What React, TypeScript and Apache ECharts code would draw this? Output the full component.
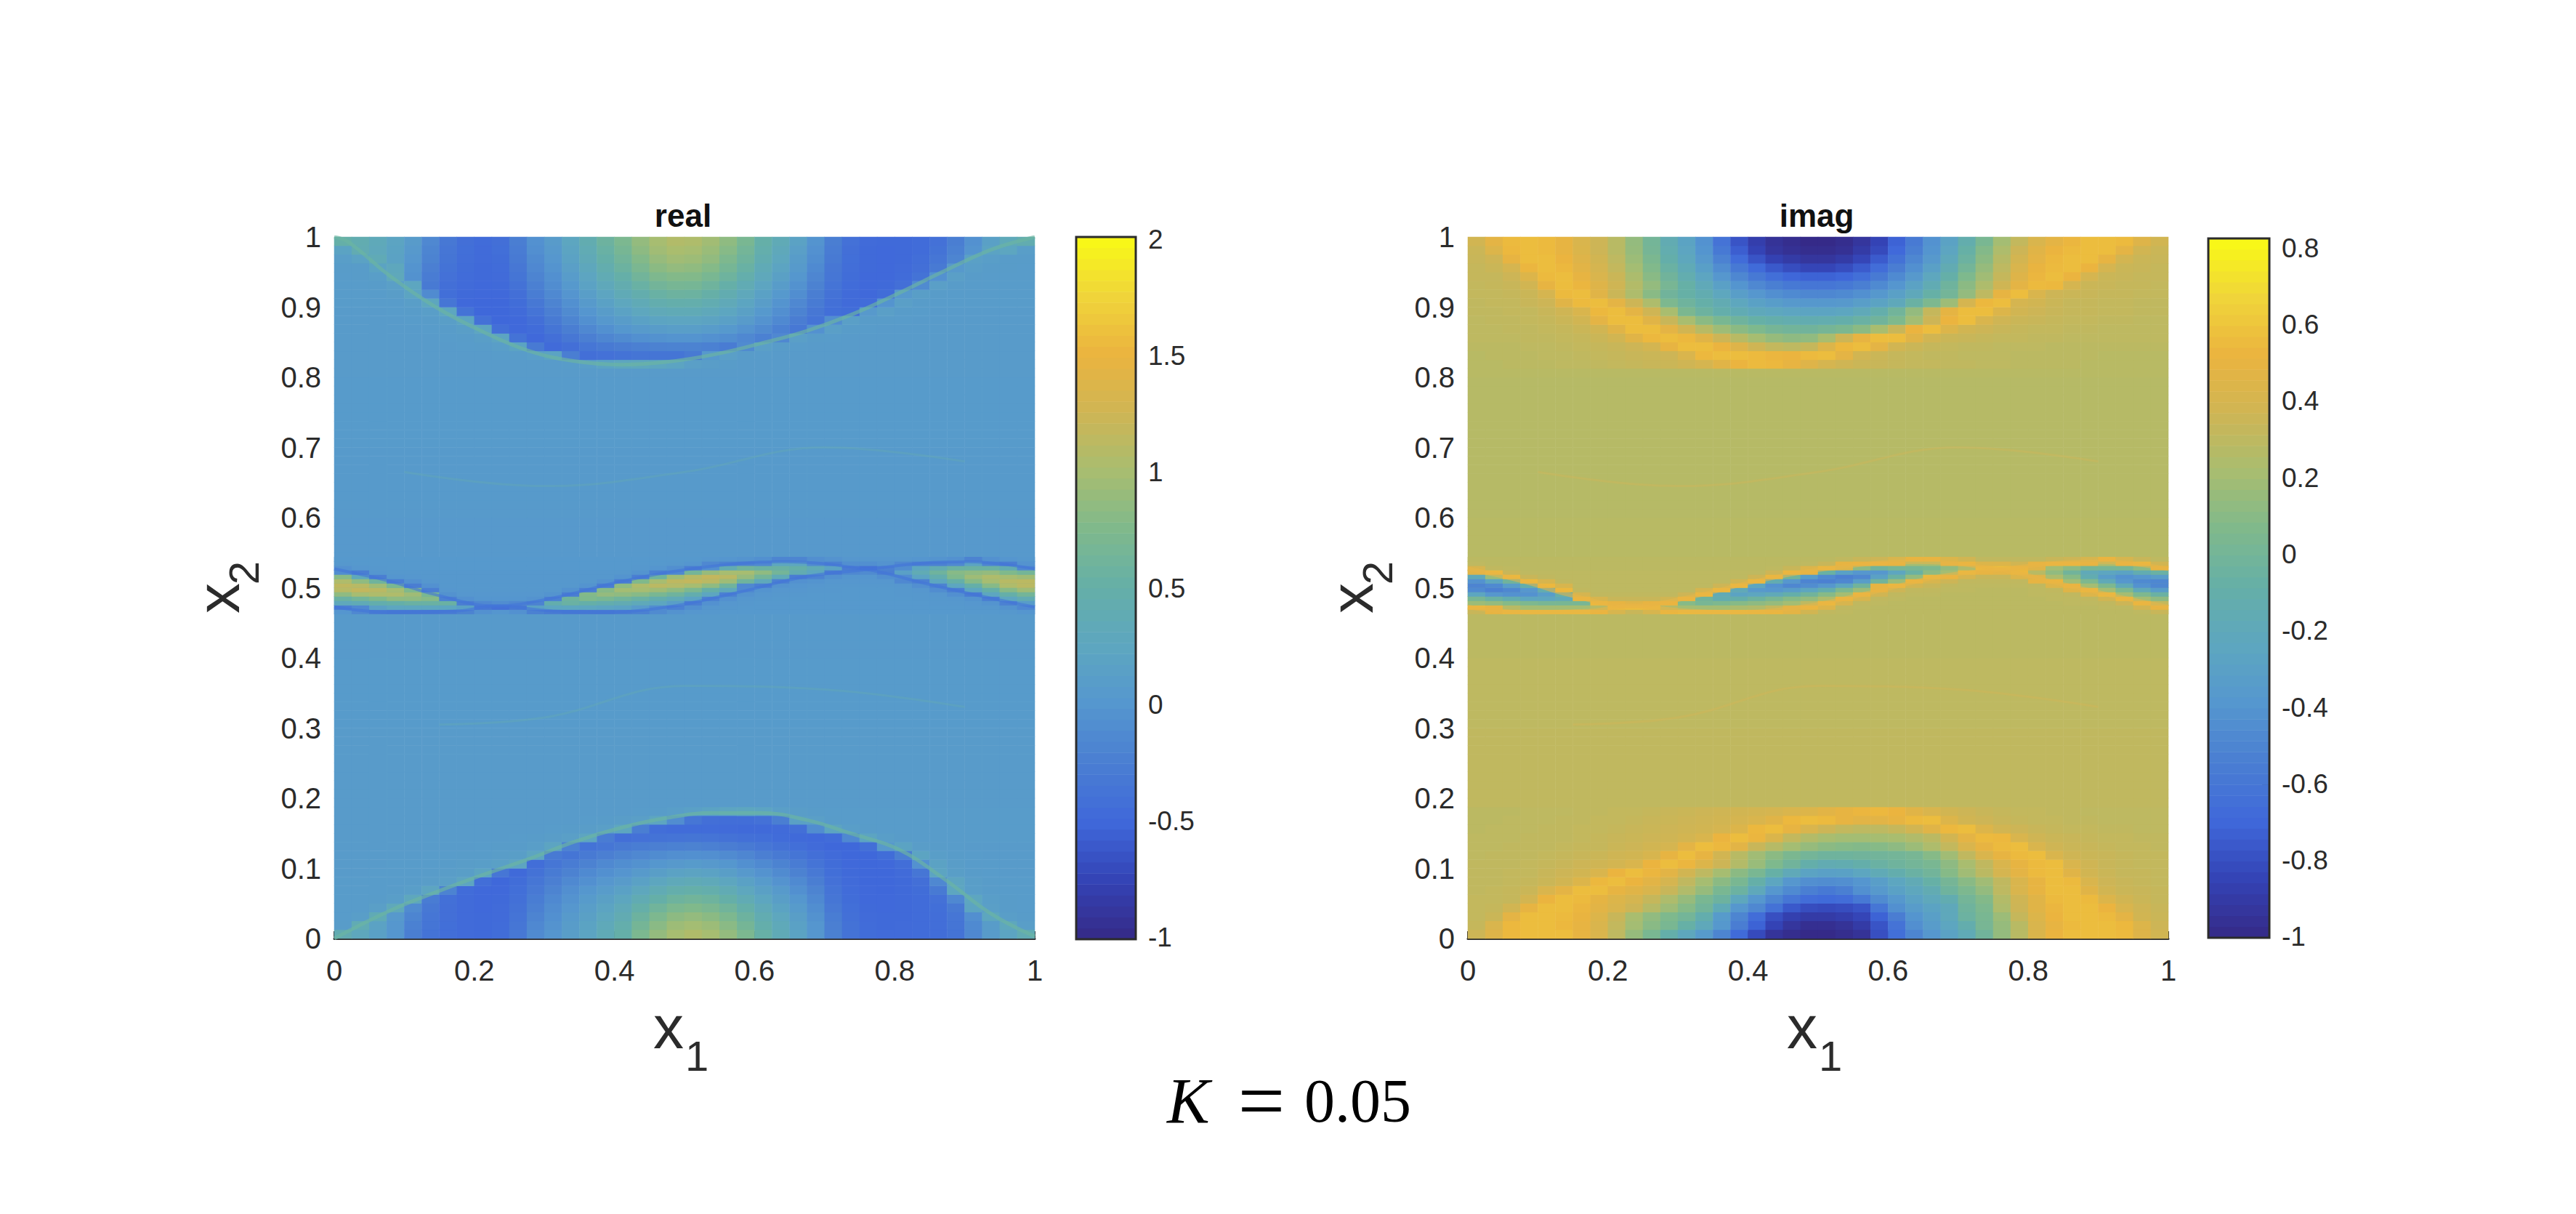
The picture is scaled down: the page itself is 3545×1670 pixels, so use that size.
import React, { useEffect, useRef } from "react";
import * as echarts from "echarts";

// Colour scale (evenly spaced from low to high)
const colorScale = ["#352A87","#3443B5","#3F68DA","#4A7ED2","#5596CF","#5DA6C0","#65AFA8","#7FB98C","#A8BD70","#CFB554","#EBB43F","#F0D53A","#F9FB15"];

const COLS = 40;
const ROWS = 80;
const FINE_ROWS = 160;
const FINE_FIRST_ROW = 74;
const xTicks = [0, 0.2, 0.4, 0.6, 0.8, 1];
const realBarTicks = [-1, -0.5, 0, 0.5, 1, 1.5, 2];
const imagBarTicks = [-1, -0.8, -0.6, -0.4, -0.2, 0, 0.2, 0.4, 0.6, 0.8];

// Values are in hundredths. Background value per tenth of x2.
const realBackground = [9, 8, 8, 7, 6, 5, 6, 7, 8, 8];
const imagBackground = [30, 31, 31, 30, 29, 28, 27, 27, 28, 29];

// Top lens, x2 from 0.994 down to 0.819 in steps of 0.0125, x1 in 40 cells
const realTop = [
[50,42,32,22,8,-15,-32,-42,-46,-42,-25,-5,8,25,42,58,72,88,100,107,105,97,85,70,50,35,18,-2,-25,-40,-47,-48,-48,-46,-40,-25,-5,15,32,42],
[20,40,30,20,5,-18,-34,-43,-47,-43,-28,-8,5,22,38,54,68,84,96,102,100,92,80,65,46,31,14,-5,-28,-42,-48,-49,-48,-46,-38,-22,-2,20,25,12],
[12,18,35,18,2,-20,-36,-44,-47,-45,-30,-12,2,18,34,50,63,78,90,96,94,87,74,60,42,27,10,-9,-30,-43,-48,-49,-48,-44,-34,-18,15,12,10,10],
[10,10,20,28,-2,-24,-38,-45,-48,-46,-33,-15,-2,14,29,44,57,71,83,88,86,79,67,54,36,22,6,-13,-33,-44,-48,-49,-47,-42,-30,5,12,10,10,9],
[9,10,12,30,-4,-28,-40,-46,-48,-47,-36,-19,-6,9,24,38,50,63,74,78,77,70,59,46,30,16,1,-17,-35,-45,-49,-49,-46,-38,-5,14,10,9,9,9],
[9,9,10,14,25,-30,-42,-47,-49,-48,-39,-23,-10,4,18,31,43,54,64,68,67,60,50,38,24,10,-4,-21,-37,-46,-49,-48,-42,-12,14,10,9,9,9,9],
[9,9,9,11,22,-12,-43,-48,-49,-49,-42,-27,-14,-1,12,24,35,45,54,58,57,51,42,30,17,4,-9,-25,-39,-47,-49,-45,5,13,10,9,9,9,9,9],
[9,9,9,9,12,26,-35,-49,-50,-50,-45,-32,-19,-6,6,17,27,36,44,47,46,41,33,23,11,-2,-15,-29,-41,-47,-46,-2,14,10,9,9,9,9,9,9],
[8,8,8,9,10,12,25,-38,-50,-50,-47,-37,-24,-12,0,10,19,27,33,36,35,31,25,16,4,-8,-20,-33,-43,-45,5,14,10,9,8,8,8,8,8,8],
[8,8,8,8,9,10,13,22,-40,-50,-49,-42,-30,-18,-7,3,10,17,22,24,24,21,15,8,-3,-14,-26,-37,-10,14,10,10,9,8,8,8,8,8,8,8],
[8,8,8,8,8,9,10,13,24,-42,-49,-46,-36,-25,-15,-6,1,6,10,12,12,9,4,-3,-12,-22,-32,-5,14,10,9,8,8,8,8,8,8,8,8,8],
[8,8,8,8,8,8,9,10,13,22,-38,-49,-42,-33,-24,-17,-12,-7,-4,-2,-2,-5,-9,-15,-22,-15,14,10,9,8,8,8,8,8,8,8,8,8,8,8],
[8,8,8,8,8,8,8,9,10,12,20,-30,-47,-42,-35,-30,-26,-23,-21,-20,-20,-22,-28,-12,14,10,9,8,8,8,8,8,8,8,8,8,8,8,8,8],
[8,8,8,8,8,8,8,8,8,9,10,12,20,-25,-42,-40,-38,-36,-36,-36,-30,5,14,10,9,8,8,8,8,8,8,8,8,8,8,8,8,8,8,8],
[8,8,8,8,8,8,8,8,8,8,8,8,8,10,12,20,26,28,26,22,14,11,10,8,8,8,8,8,8,8,8,8,8,8,8,8,8,8,8,8],
];

// Central band, one list per x1 cell, x2 from 0.4656 to 0.5406 in steps of 0.00625
const realBand = [
[0,-25,30,55,85,110,115,105,80,-10,-5,3,4],
[-15,-15,35,65,100,118,110,85,30,-25,2,4,4],
[-25,15,45,75,105,112,95,60,-25,0,3,4,4],
[-30,25,50,85,105,100,70,-25,0,3,4,4,4],
[-30,25,55,85,95,75,-25,-5,2,3,4,4,4],
[-30,25,55,80,70,-25,-5,2,3,3,4,4,4],
[-28,25,55,-22,-4,2,3,3,3,3,4,4,4],
[-20,15,-25,-5,2,3,3,3,3,3,4,4,4],
[-5,-32,-15,0,2,3,3,3,3,3,4,4,4],
[0,-40,-10,0,2,3,3,3,3,3,4,4,4],
[-5,-30,-15,0,2,3,3,3,3,3,4,4,4],
[-22,15,-20,-3,2,3,3,3,3,3,4,4,4],
[-28,25,45,-22,-2,3,3,3,3,3,4,4,4],
[-30,25,55,60,-25,-4,3,3,3,3,4,4,4],
[-30,25,50,75,78,-25,-2,3,3,3,4,4,4],
[-30,22,45,70,88,80,-25,-3,3,3,4,4,4],
[-25,18,40,62,85,98,85,-25,-2,3,4,4,4],
[-22,8,32,55,80,100,105,75,-25,-2,3,4,4],
[-12,-10,25,45,70,95,112,100,60,-22,0,4,4],
[-3,-22,12,35,60,85,108,115,95,-15,-8,3,4],
[2,-8,-25,20,45,72,100,118,110,65,-25,0,4],
[3,2,-5,-22,25,50,85,112,118,90,-8,-15,2],
[4,3,2,-5,-22,30,60,95,112,100,40,-20,0],
[4,4,3,2,-3,-15,-15,60,90,100,60,-20,-2],
[4,4,4,3,2,-2,-25,30,65,85,55,-15,-6],
[4,4,4,4,3,2,-3,-22,35,65,55,25,-18],
[4,4,4,4,3,2,0,-5,-28,40,50,25,-18],
[4,4,4,4,4,3,2,-2,-20,25,35,-12,-8],
[4,4,4,4,4,3,3,2,-5,-28,18,-22,-3],
[4,4,4,4,4,4,3,2,0,-15,-28,-8,2],
[4,4,4,4,4,4,3,2,0,-12,-38,-8,2],
[4,4,4,4,4,4,3,2,-8,-25,-22,-3,2],
[4,4,4,4,3,3,2,-15,-10,15,-10,-15,2],
[4,4,4,3,3,2,-8,-22,22,38,25,-22,0],
[4,4,3,3,2,-10,-20,25,45,60,40,-22,-2],
[4,4,3,2,-8,-25,25,50,75,80,55,-15,-5],
[4,3,2,-3,-28,25,50,80,95,85,55,20,-20],
[4,3,-2,-25,25,50,80,100,105,88,55,-18,-5],
[3,-3,-22,25,50,80,105,110,100,75,40,-25,0],
[0,-15,10,40,65,95,112,113,95,65,-15,-3,3],
];

// Bottom lens, x2 from 0.006 up to 0.181
const realBottom = [
[40,28,15,0,-25,-38,-44,-47,-48,-45,-32,-12,0,12,22,35,50,72,88,100,106,100,88,72,52,35,20,2,-22,-38,-45,-47,-47,-46,-45,-38,-15,8,22,38],
[10,38,18,2,-22,-36,-43,-47,-48,-46,-34,-15,-3,10,20,32,46,66,82,94,98,93,82,66,47,32,17,0,-24,-39,-46,-48,-47,-46,-44,-36,-13,10,28,12],
[9,12,36,5,-18,-34,-42,-47,-48,-47,-37,-19,-6,6,16,27,40,58,73,84,88,83,73,58,41,27,13,-4,-27,-41,-47,-48,-48,-46,-44,-34,-8,26,12,10],
[9,9,14,30,-12,-32,-42,-47,-49,-47,-39,-23,-10,2,12,22,33,49,62,72,76,71,62,49,33,20,7,-9,-31,-43,-48,-49,-48,-46,-43,-30,22,14,10,9],
[9,9,10,12,28,-28,-41,-47,-49,-48,-41,-27,-14,-3,7,16,26,39,50,59,63,59,50,38,25,13,1,-14,-34,-45,-49,-49,-48,-46,-40,-15,25,12,10,9],
[9,9,9,10,12,24,-20,-46,-49,-49,-43,-31,-19,-8,1,9,17,28,38,46,49,46,38,27,16,6,-6,-19,-37,-46,-49,-50,-48,-45,-30,25,12,10,9,9],
[9,9,9,9,10,11,14,24,-44,-50,-45,-35,-24,-14,-6,2,8,17,26,32,35,32,26,17,7,-3,-13,-25,-40,-47,-50,-50,-48,-42,-15,24,12,10,9,9],
[8,8,9,9,9,10,11,13,22,-35,-48,-39,-29,-21,-13,-6,-1,6,13,18,21,18,13,5,-3,-12,-21,-31,-43,-48,-50,-50,-47,-35,22,13,10,9,8,8],
[8,8,8,9,9,9,10,11,12,15,24,-44,-35,-28,-21,-14,-9,-4,1,5,7,5,1,-6,-13,-20,-28,-37,-45,-49,-50,-49,-44,-5,18,11,9,9,8,8],
[8,8,8,8,8,9,9,10,10,11,13,24,-30,-36,-30,-24,-19,-15,-11,-8,-7,-8,-12,-17,-24,-30,-36,-42,-47,-50,-50,-45,-25,22,12,10,9,8,8,8],
[8,8,8,8,8,8,8,8,9,10,10,12,22,-22,-38,-34,-30,-27,-24,-22,-21,-23,-26,-30,-35,-39,-43,-47,-50,-50,-42,5,20,11,10,9,8,8,8,8],
[8,8,8,8,8,8,8,8,8,8,9,10,11,14,24,-28,-42,-40,-38,-37,-36,-37,-39,-41,-43,-46,-48,-49,-46,-15,22,12,10,9,9,9,9,9,9,9],
[8,8,8,8,8,8,8,8,8,8,8,8,9,10,11,14,25,-25,-44,-46,-46,-46,-47,-48,-48,-47,-42,-10,22,12,10,9,9,9,9,9,9,9,9,9],
[8,8,8,8,8,8,8,8,8,8,8,8,8,8,9,10,11,14,24,-10,-35,-42,-44,-44,-40,-25,16,14,10,9,9,9,9,9,9,9,9,9,9,9],
[8,8,8,8,8,8,8,8,8,8,8,8,8,8,8,8,8,9,10,12,15,20,24,26,22,14,11,10,9,9,9,9,9,9,9,9,9,9,9,9],
];

const imagTop = [
[38,48,55,56,55,50,42,36,28,14,0,-15,-27,-42,-62,-78,-88,-95,-98,-100,-100,-98,-93,-85,-72,-57,-42,-28,-12,3,20,32,42,48,53,56,56,55,45,38],
[35,44,54,56,55,50,43,36,28,15,1,-13,-25,-40,-58,-74,-85,-93,-96,-98,-98,-96,-90,-82,-69,-54,-40,-25,-8,8,24,36,46,52,55,56,56,48,38,35],
[34,37,50,56,56,52,45,38,30,17,4,-10,-22,-36,-52,-67,-78,-86,-90,-93,-93,-90,-84,-75,-63,-49,-36,-21,-5,11,27,39,48,54,56,56,50,39,35,34],
[33,35,40,53,56,54,47,40,32,20,7,-6,-18,-31,-45,-58,-68,-76,-81,-84,-84,-81,-75,-66,-55,-43,-30,-15,0,15,30,42,51,55,56,52,40,35,34,33],
[33,33,36,44,55,56,50,42,35,23,10,-2,-13,-25,-38,-49,-58,-65,-70,-72,-72,-70,-65,-57,-47,-36,-23,-9,6,19,33,45,53,56,52,40,35,34,33,33],
[32,33,34,38,50,56,53,45,37,26,14,2,-8,-19,-30,-40,-48,-54,-58,-60,-60,-58,-54,-47,-39,-28,-16,-3,11,24,37,48,55,54,40,35,34,33,33,32],
[32,32,33,35,40,55,56,46,35,24,10,-2,-8,-14,-23,-32,-38,-44,-47,-49,-49,-47,-43,-37,-30,-20,-8,0,14,30,50,56,42,36,35,34,33,33,32,32],
[31,32,32,34,36,46,55,56,48,36,24,5,-3,-9,-15,-23,-29,-33,-36,-37,-37,-36,-32,-27,-20,-6,5,18,40,54,56,40,38,35,33,33,32,32,31,31],
[31,31,32,32,34,37,42,54,56,48,37,22,4,-4,-11,-16,-20,-23,-25,-26,-26,-24,-19,-11,-1,14,33,49,56,56,44,38,36,34,33,33,32,32,31,31],
[30,31,31,32,33,35,38,48,56,56,46,34,22,11,3,-3,-8,-11,-13,-14,-13,-10,-6,-2,6,20,36,52,56,42,37,35,34,33,32,32,31,31,30,30],
[30,30,31,31,32,33,35,38,46,56,56,48,38,28,18,11,6,1,-1,-2,1,4,11,22,34,52,56,44,38,36,34,33,32,32,31,31,30,30,30,30],
[30,30,30,31,31,32,33,35,38,46,54,56,54,46,36,28,21,15,12,13,22,36,50,56,56,46,38,35,34,33,32,32,31,31,30,30,30,30,30,30],
[29,29,29,30,30,31,32,33,34,36,39,50,56,56,52,45,37,32,30,33,44,54,56,48,38,35,33,32,31,31,30,30,30,29,29,29,29,29,29,29],
[28,29,29,29,30,30,31,32,33,34,35,36,42,54,56,56,55,53,52,55,56,48,38,35,33,32,31,31,30,30,30,29,29,29,29,29,28,28,28,28],
[28,28,29,29,29,30,30,31,32,33,34,35,37,40,46,52,55,54,50,45,40,37,35,34,33,32,32,31,31,30,30,29,29,29,29,28,28,28,28,28],
];

const imagBand = [
[34,54,17,2,-24,-47,-51,-42,-19,46,41,30,29],
[50,50,14,-6,-38,-53,-47,-24,17,54,31,29,29],
[54,28,9,-14,-42,-49,-33,-2,54,34,30,29,29],
[55,20,5,-24,-42,-38,-10,54,34,30,29,29,29],
[55,20,2,-24,-33,-14,54,41,31,30,29,29,29],
[55,20,2,-19,-10,54,41,31,30,30,29,29,29],
[55,20,2,53,40,31,30,30,30,30,29,29,29],
[52,28,54,41,31,30,30,30,30,30,29,29,29],
[41,55,50,34,31,30,30,30,30,30,29,29,29],
[34,56,46,34,31,30,30,30,30,30,29,29,29],
[41,55,50,34,31,30,30,30,30,30,29,29,29],
[53,28,52,38,31,30,30,30,30,30,29,29,29],
[55,20,9,53,36,30,30,30,30,30,29,29,29],
[55,20,2,-2,54,40,30,30,30,30,29,29,29],
[55,20,5,-14,-17,54,36,30,30,30,29,29,29],
[55,23,9,-10,-27,-19,54,38,30,30,29,29,29],
[54,25,12,-4,-24,-36,-24,54,36,30,29,29,29],
[53,32,15,2,-19,-38,-42,-14,54,36,30,29,29],
[48,46,20,9,-10,-33,-49,-38,-2,53,34,29,29],
[38,53,30,14,-2,-24,-45,-51,-33,50,44,30,29],
[31,44,54,24,9,-12,-38,-53,-47,-6,54,34,29],
[30,31,41,53,20,5,-24,-49,-53,-29,44,50,31],
[29,30,31,41,53,17,-2,-33,-49,-38,12,52,34],
[29,29,30,31,38,50,50,-2,-29,-38,-2,52,36],
[29,29,29,30,31,36,54,17,-6,-24,2,50,42],
[29,29,29,29,30,31,38,53,14,-6,2,20,51],
[29,29,29,29,30,31,34,41,55,12,5,20,51],
[29,29,29,29,29,30,31,36,52,20,14,48,44],
[29,29,29,29,29,30,30,31,41,55,25,53,38],
[29,29,29,29,29,29,30,31,34,50,55,44,31],
[29,29,29,29,29,29,30,31,34,48,56,44,31],
[29,29,29,29,29,29,30,31,44,54,53,38,31],
[29,29,29,29,30,30,31,50,46,28,46,50,31],
[29,29,29,30,30,31,44,53,23,13,20,53,34],
[29,29,30,30,31,46,52,20,9,-2,12,53,36],
[29,29,30,31,44,54,20,5,-14,-19,2,50,41],
[29,30,31,38,55,20,5,-19,-33,-24,2,24,52],
[29,30,36,54,20,5,-19,-38,-42,-27,2,51,41],
[30,38,53,20,5,-19,-42,-47,-38,-14,12,54,34],
[34,50,32,12,-6,-33,-49,-49,-33,-6,50,38,30],
];

const imagBottom = [
[36,45,54,56,56,56,50,42,30,15,3,-10,-22,-35,-50,-68,-82,-94,-98,-100,-100,-98,-95,-80,-65,-50,-38,-28,-18,-2,14,28,43,52,56,56,56,55,45,38],
[33,42,54,56,56,54,50,42,32,20,10,3,-8,-20,-37,-55,-72,-85,-93,-97,-97,-95,-90,-78,-62,-44,-34,-24,-12,2,15,28,42,50,55,56,56,54,44,36],
[32,35,48,56,56,55,51,44,34,22,13,6,0,-12,-35,-50,-66,-80,-87,-90,-90,-88,-84,-72,-55,-40,-31,-21,-5,3,17,33,44,52,56,56,55,48,38,35],
[32,33,38,50,56,56,53,47,42,36,27,18,9,-1,-18,-38,-48,-63,-76,-81,-82,-81,-78,-60,-43,-34,-27,-20,-3,5,24,36,46,53,56,56,52,42,37,34],
[32,32,33,39,52,56,55,49,44,40,33,24,15,3,-4,-22,-38,-50,-60,-66,-68,-66,-58,-46,-37,-28,-21,-14,0,8,26,37,46,55,56,55,44,38,35,33],
[31,32,33,35,42,48,56,56,50,46,42,34,25,15,3,-5,-20,-38,-47,-54,-58,-54,-43,-36,-29,-22,-15,-3,5,14,30,42,50,56,56,46,38,35,34,33],
[31,31,32,33,35,38,44,54,56,52,47,40,31,21,11,3,-9,-24,-38,-44,-45,-44,-39,-32,-24,-17,-8,1,10,19,31,42,50,56,55,42,36,34,33,32],
[31,31,32,32,34,36,38,42,52,56,53,47,38,30,21,11,3,-8,-19,-27,-30,-29,-24,-18,-12,-6,-1,9,19,29,40,48,55,56,46,38,35,33,33,32],
[31,31,31,32,33,34,36,37,39,42,52,56,53,44,36,26,16,6,-2,-10,-15,-14,-10,-6,-3,0,3,12,22,31,42,50,55,56,42,37,34,33,32,32],
[30,31,31,31,32,33,34,35,37,38,41,50,56,50,38,28,19,11,4,0,-3,-3,-2,-1,0,2,9,19,31,42,50,55,56,42,37,35,34,33,32,32],
[30,30,31,31,31,32,33,33,35,36,38,40,48,56,54,47,34,27,20,15,11,9,8,9,12,17,24,32,42,50,55,56,42,37,35,34,33,32,32,31],
[30,30,30,31,31,31,32,33,34,35,36,37,39,42,52,56,53,43,32,26,22,20,20,21,22,25,29,38,48,55,54,42,37,35,34,33,32,32,31,31],
[29,30,30,30,31,31,32,32,33,34,35,36,37,38,40,44,54,56,50,42,36,32,30,30,33,38,46,54,56,44,38,36,34,33,32,32,31,31,30,30],
[29,29,30,30,30,31,31,32,32,33,34,35,36,37,38,40,42,46,54,56,55,50,47,47,50,55,56,44,38,36,34,33,32,32,31,31,30,30,30,30],
[29,29,29,30,30,30,31,31,32,32,33,34,35,36,37,38,39,40,42,44,47,50,53,54,52,46,42,38,36,34,33,32,32,31,31,30,30,30,30,30],
];

// Thin curves: [x1, x2]
const topRidge = [[0,1],[0.02,0.993],[0.08,0.944],[0.145,0.9],[0.21,0.866],[0.277,0.838],[0.343,0.823],[0.41,0.818],[0.475,0.822],[0.54,0.832],[0.608,0.848],[0.674,0.866],[0.74,0.89],[0.806,0.92],[0.872,0.952],[0.938,0.982],[1,1]];
const bottomRidge = [[0,0],[0.08,0.04],[0.145,0.066],[0.21,0.09],[0.277,0.113],[0.343,0.138],[0.41,0.158],[0.475,0.172],[0.54,0.179],[0.608,0.179],[0.674,0.169],[0.74,0.149],[0.806,0.127],[0.872,0.084],[0.938,0.035],[1,0.003]];
const bandCurveA = [[0,0.527],[0.08,0.509],[0.145,0.49],[0.23,0.474],[0.31,0.485],[0.41,0.509],[0.51,0.527],[0.64,0.537],[0.76,0.526],[0.84,0.507],[0.938,0.485],[1,0.4725]];
const bandCurveB = [[0,0.4725],[0.08,0.465],[0.178,0.467],[0.23,0.474],[0.31,0.467],[0.376,0.465],[0.476,0.4725],[0.575,0.493],[0.674,0.516],[0.76,0.526],[0.84,0.535],[0.905,0.537],[1,0.527]];
const faintUpper = [[0.1,0.665],[0.3,0.645],[0.5,0.665],[0.7,0.7],[0.9,0.68]];
const faintLower = [[0.15,0.305],[0.3,0.315],[0.5,0.36],[0.7,0.355],[0.9,0.33]];

const realRange = [-1.009, 2.0125];
const imagRange = [-1.002, 0.825];
const BAR_LEVELS = 64;

const FONT = "Liberation Sans";
const INK = "#2b2b2b";

function cells(top: number[][], bottom: number[][], background: number[]) {
  const out: number[][] = [];
  for (let j = 0; j < ROWS; j++) {
    let row: number[] | undefined;
    if (j < bottom.length) row = bottom[j];
    else if (j >= ROWS - top.length) row = top[ROWS - 1 - j];
    for (let i = 0; i < COLS; i++) {
      const v = row ? row[i] : background[Math.floor((j / ROWS) * 10)];
      out.push([i, j, v / 100]);
    }
  }
  return out;
}

function bandCells(band: number[][]) {
  const out: number[][] = [];
  band.forEach((column, i) => column.forEach((v, k) => out.push([i, FINE_FIRST_ROW + k, v / 100])));
  return out;
}

function barCells(range: number[]) {
  const out: number[][] = [];
  for (let k = 0; k < BAR_LEVELS; k++) {
    out.push([0, k, range[0] + ((k + 0.5) / BAR_LEVELS) * (range[1] - range[0])]);
  }
  return out;
}

const indexList = (n: number) => Array.from({ length: n }, (_, i) => String(i));

function hiddenCat(gridIndex: number, n: number) {
  return { type: "category", gridIndex, data: indexList(n), show: false, boundaryGap: true };
}

function mainX(gridIndex: number) {
  return {
    type: "value", gridIndex, min: 0, max: 1, interval: 0.2, position: "bottom",
    axisLine: { show: true, onZero: false, lineStyle: { color: INK, width: 3 } },
    axisTick: { show: true, inside: true, length: 10, lineStyle: { color: INK, width: 2 } },
    axisLabel: { show: true, margin: 24, fontSize: 40, color: INK, fontFamily: FONT, customValues: xTicks },
    splitLine: { show: false },
  };
}

function mainY(gridIndex: number) {
  return {
    type: "value", gridIndex, min: 0, max: 1, interval: 0.1, position: "left",
    axisLine: { show: false },
    axisTick: { show: false },
    axisLabel: { show: true, margin: 18, fontSize: 40, color: INK, fontFamily: FONT },
    splitLine: { show: false },
  };
}

function barY(gridIndex: number, range: number[], ticks: number[]) {
  return {
    type: "value", gridIndex, min: range[0], max: range[1], position: "right",
    axisLine: { show: false },
    axisTick: { show: true, inside: true, length: 10, customValues: ticks, lineStyle: { color: INK, width: 2 } },
    axisLabel: { show: true, margin: 17, fontSize: 37, color: INK, fontFamily: FONT, customValues: ticks },
    splitLine: { show: false },
  };
}

function heat(xAxisIndex: number, yAxisIndex: number, data: number[][]) {
  return {
    type: "heatmap", xAxisIndex, yAxisIndex, data, progressive: 0, silent: true,
    itemStyle: { borderWidth: 0 }, emphasis: { disabled: true },
  };
}

function curve(xAxisIndex: number, yAxisIndex: number, data: number[][], color: string, width: number, opacity: number) {
  return {
    type: "line", xAxisIndex, yAxisIndex, data, smooth: 0.4, showSymbol: false, symbol: "none", silent: true, z: 5,
    lineStyle: { color, width, opacity }, clip: true,
  };
}

function label(text: string, x: number, y: number, fontSize: number, extra: any = {}) {
  const { rotation, fontFamily, fontWeight, fontStyle, textAlign, fill } = extra;
  return {
    type: "text", x, y, rotation: rotation || 0, z: 50,
    style: {
      text, fontSize, fill: fill || INK, fontFamily: fontFamily || FONT,
      fontWeight: fontWeight || "normal", fontStyle: fontStyle || "normal",
      textAlign: textAlign || "center", textVerticalAlign: "middle", verticalAlign: "middle",
    },
  };
}

function frame(x: number, y: number, width: number, height: number) {
  return { type: "rect", z: 40, shape: { x, y, width, height }, style: { fill: "none", stroke: "#2b2b2b", lineWidth: 3 } };
}

export default function App() {
  const ref = useRef<HTMLDivElement>(null);
  useEffect(() => {
    if (!ref.current) return;
    const chart = echarts.init(ref.current, undefined, { renderer: "svg" });
    const offset = 1560;
    const serif = "Liberation Serif";
    chart.setOption({
      animation: false,
      backgroundColor: "#ffffff",
      grid: [
        { left: 460, top: 326, width: 964, height: 965 },
        { left: 2020, top: 326, width: 964, height: 965 },
        { left: 1481, top: 326, width: 82, height: 966 },
        { left: 3039, top: 328, width: 84, height: 962 },
      ],
      xAxis: [
        hiddenCat(0, COLS), mainX(0),
        hiddenCat(1, COLS), mainX(1),
        hiddenCat(2, 1),
        hiddenCat(3, 1),
      ],
      yAxis: [
        hiddenCat(0, ROWS), mainY(0),
        hiddenCat(1, ROWS), mainY(1),
        hiddenCat(2, BAR_LEVELS), barY(2, realRange, realBarTicks),
        hiddenCat(3, BAR_LEVELS), barY(3, imagRange, imagBarTicks),
        hiddenCat(0, FINE_ROWS),
        hiddenCat(1, FINE_ROWS),
      ],
      visualMap: [
        { type: "continuous", show: false, min: realRange[0], max: realRange[1], dimension: 2, seriesIndex: [0, 2, 4], inRange: { color: colorScale } },
        { type: "continuous", show: false, min: imagRange[0], max: imagRange[1], dimension: 2, seriesIndex: [1, 3, 5], inRange: { color: colorScale } },
      ],
      series: [
        heat(0, 0, cells(realTop, realBottom, realBackground)),
        heat(2, 2, cells(imagTop, imagBottom, imagBackground)),
        heat(0, 8, bandCells(realBand)),
        heat(2, 9, bandCells(imagBand)),
        heat(4, 4, barCells(realRange)),
        heat(5, 6, barCells(imagRange)),
        curve(1, 1, topRidge, "#6CB5A2", 5, 0.65),
        curve(1, 1, bottomRidge, "#6CB5A2", 5, 0.65),
        curve(1, 1, bandCurveA, "#4274D8", 4, 0.6),
        curve(1, 1, bandCurveB, "#4274D8", 4, 0.6),
        curve(1, 1, faintUpper, "#6CB5A2", 3, 0.25),
        curve(1, 1, faintLower, "#6CB5A2", 3, 0.25),
        curve(3, 3, bandCurveA, "#EAB545", 6, 0.55),
        curve(3, 3, bandCurveB, "#EAB545", 6, 0.55),
        curve(3, 3, faintUpper, "#E2B44E", 3, 0.25),
        curve(3, 3, faintLower, "#E2B44E", 3, 0.25),
      ],
      graphic: { elements: [
        frame(1481, 326, 82, 966),
        frame(3039, 328, 84, 962),
        label("real", 940, 296, 44, { fontWeight: "bold", fill: "#111" }),
        label("imag", 2500, 296, 44, { fontWeight: "bold", fill: "#111" }),
        label("x", 920, 1413, 84),
        label("1", 959, 1452, 58),
        label("x", 920 + offset, 1413, 84),
        label("1", 959 + offset, 1452, 58),
        label("x", 300, 823, 84, { rotation: Math.PI / 2 }),
        label("2", 335, 788, 58, { rotation: Math.PI / 2 }),
        label("x", 300 + offset, 823, 84, { rotation: Math.PI / 2 }),
        label("2", 335 + offset, 788, 58, { rotation: Math.PI / 2 }),
        label("K", 1606, 1514, 88, { fontFamily: serif, fontStyle: "italic", textAlign: "left", fill: "#000" }),
        label("=", 1736, 1514, 115, { fontFamily: serif, fill: "#000" }),
        label("0.05", 1795, 1514, 84, { fontFamily: serif, textAlign: "left", fill: "#000" }),
      ] },
    });
    return () => chart.dispose();
  }, []);
  return <div ref={ref} style={{ position: "absolute", left: 0, top: 0, width: 3545, height: 1670 }} />;
}
